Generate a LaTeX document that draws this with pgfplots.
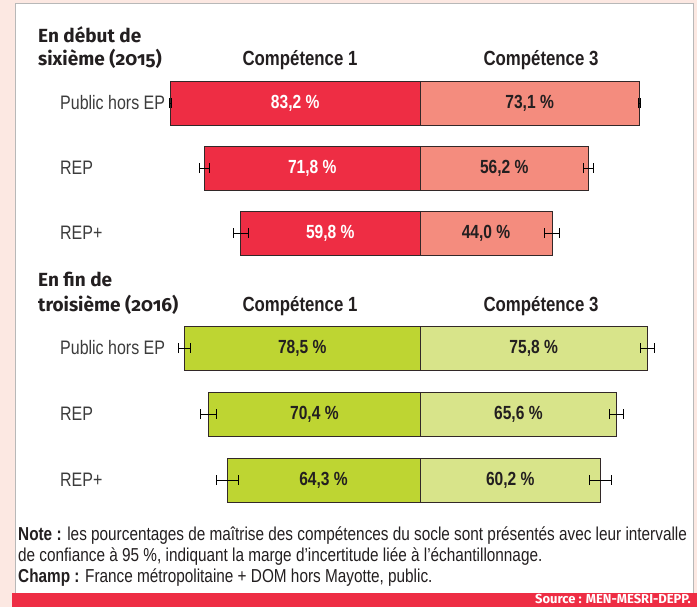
\documentclass[border=0pt]{standalone}
\usepackage{fontspec}
\setmainfont{Liberation Sans}[FakeStretch=0.82]
\newfontfamily\titlefont{Fira Sans}[Numbers=OldStyle]
\usepackage{pgfplots}
\pgfplotsset{compat=1.18}
\usepackage{pgfplotstable}
\definecolor{redA}{RGB}{238,45,68}
\definecolor{salmon}{RGB}{244,140,126}
\definecolor{limeA}{RGB}{190,213,50}
\definecolor{limeB}{RGB}{216,228,138}
\definecolor{pinkbg}{RGB}{252,232,226}
\definecolor{barline}{RGB}{50,40,40}
\definecolor{txt}{RGB}{35,31,32}
\definecolor{lbl}{RGB}{60,60,60}

% row  comp1  err1  comp3  err3
\pgfplotstableread{
row c1 e1 c3 e3
0 83.2 0.3 73.1 0.3
1 71.8 1.7 56.2 1.7
2 59.8 2.5 44.0 2.5
}\tabA
\pgfplotstableread{
row c1 e1 c3 e3
0 78.5 2.0 75.8 2.3
1 70.4 2.7 65.6 2.3
2 64.3 3.7 60.2 3.7
}\tabB

\pgfplotsset{
  butterfly/.style={
    anchor=north west, x=3pt, y=#1, y dir=reverse,
    xmin=-90, xmax=90, ymin=-0.5, ymax=2.5,
    axis line style={draw=none}, xtick=\empty, ytick={0,1,2},
    yticklabels={Public hors EP, REP, REP+},
    major tick length=0pt,
    yticklabel style={anchor=west, xshift=-90pt, inner sep=0pt, text=lbl,
      font=\fontsize{19.5}{24}\selectfont},
    clip=false,
    /pgf/number format/.cd, fixed, fixed zerofill, precision=1, use comma, assume math mode=true,
  },
  bars/.style={xbar, bar shift=0pt, bar width=44pt, fill=#1, draw=barline, line width=0.8pt,
    error bars/.cd, x dir=both, x explicit, error mark=|,
    error bar style={black, line width=0.9pt},
    error mark options={black, mark size=5pt, line width=0.9pt}},
  lbls/.style={draw=none, mark=none, nodes near coords={\pgfmathprintnumber{\pgfplotspointmeta}~\%},
    every node near coord/.append style={anchor=center, text=#1, inner sep=0pt,
      font=\bfseries\fontsize{19}{22}\selectfont}},
}

\begin{document}
\begin{tikzpicture}[x=1pt,y=1pt]
\fill[pinkbg] (0,0) rectangle (697,-607);
\fill[white] (15.5,-4) rectangle (693.5,-593);
\draw[black!28, line width=1pt] (15.5,-593) -- (15.5,-4) -- (693.5,-4) -- (693.5,-593);
\fill[redA] (12,-593) rectangle (697,-607);
\node[anchor=base east, inner sep=0pt, text=white] at (691,-603.5)
  {\titlefont\bfseries\fontsize{13}{15}\selectfont Source : MEN-MESRI-DEPP.};

% titles
\node[anchor=base west, inner sep=0pt, text=txt] at (38,-43)
  {\titlefont\bfseries\fontsize{19}{22}\selectfont En début de};
\node[anchor=base west, inner sep=0pt, text=txt] at (38,-66)
  {\titlefont\bfseries\fontsize{19}{22}\selectfont sixième (2015)};
\node[anchor=base west, inner sep=0pt, text=txt] at (38,-287)
  {\titlefont\bfseries\fontsize{19}{22}\selectfont En fin de};
\node[anchor=base west, inner sep=0pt, text=txt] at (38,-311)
  {\titlefont\bfseries\fontsize{19}{22}\selectfont troisième (2016)};

\node[anchor=base, inner sep=0pt, text=txt] at (300,-66)
  {\bfseries\fontsize{20.5}{24}\selectfont Compétence 1};
\node[anchor=base, inner sep=0pt, text=txt] at (541,-66)
  {\bfseries\fontsize{20.5}{24}\selectfont Compétence 3};
\node[anchor=base, inner sep=0pt, text=txt] at (300,-312)
  {\bfseries\fontsize{20.5}{24}\selectfont Compétence 1};
\node[anchor=base, inner sep=0pt, text=txt] at (541,-312)
  {\bfseries\fontsize{20.5}{24}\selectfont Compétence 3};

\begin{axis}[butterfly=65pt, at={(150pt,-70.5pt)}]
\addplot[bars=redA] table[x expr=-\thisrow{c1}, y=row, x error=e1]{\tabA};
\addplot[bars=salmon] table[x=c3, y=row, x error=e3]{\tabA};
\addplot[lbls=white, point meta=\thisrow{c1}] table[x expr=-\thisrow{c1}/2, y=row]{\tabA};
\addplot[lbls=txt, point meta=\thisrow{c3}] table[x expr=\thisrow{c3}/2, y=row]{\tabA};
\end{axis}

\begin{axis}[butterfly=66pt, at={(150pt,-315pt)}]
\addplot[bars=limeA] table[x expr=-\thisrow{c1}, y=row, x error=e1]{\tabB};
\addplot[bars=limeB] table[x=c3, y=row, x error=e3]{\tabB};
\addplot[lbls=txt, point meta=\thisrow{c1}] table[x expr=-\thisrow{c1}/2, y=row]{\tabB};
\addplot[lbls=txt, point meta=\thisrow{c3}] table[x expr=\thisrow{c3}/2, y=row]{\tabB};
\end{axis}

% notes
\begin{scope}[every node/.style={anchor=base west, inner sep=0pt, text=txt, font=\fontsize{18.7}{21}\selectfont}]
\node at (18,-540) {\textbf{Note :} les pourcentages de maîtrise des compétences du socle sont présentés avec leur intervalle};
\node at (18,-561) {de confiance à 95 \%, indiquant la marge d’incertitude liée à l’échantillonnage.};
\node at (18,-582) {\textbf{Champ :} France métropolitaine + DOM hors Mayotte, public.};
\end{scope}
\end{tikzpicture}
\end{document}
